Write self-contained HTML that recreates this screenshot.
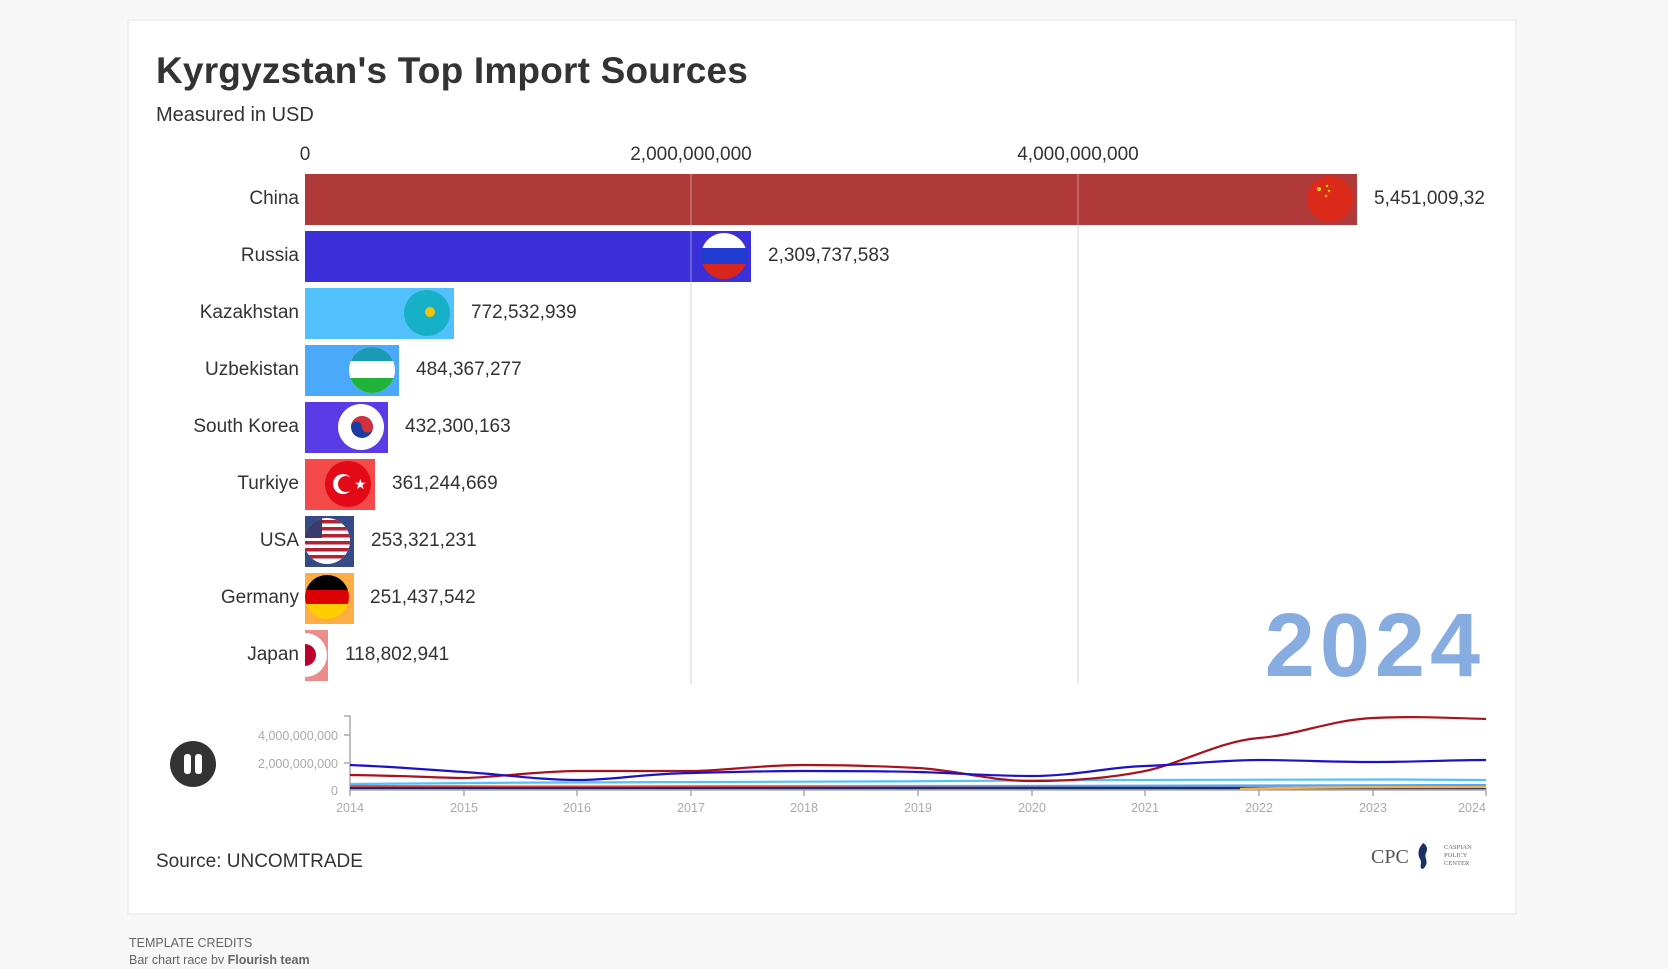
<!DOCTYPE html>
<html><head><meta charset="utf-8"><style>
body{margin:0;background:#f7f7f7;width:1668px;height:964px;overflow:hidden;font-family:"Liberation Sans",sans-serif}
</style></head><body>
<svg width="1668" height="964" xmlns="http://www.w3.org/2000/svg" font-family="Liberation Sans, sans-serif">
<rect x="127" y="19" width="1390" height="896" fill="#efefef"/>
<rect x="129" y="21" width="1386" height="892" fill="#fff"/>
<text x="156" y="83" font-size="37" font-weight="bold" fill="#333" letter-spacing="0.2">Kyrgyzstan's Top Import Sources</text>
<text x="156" y="121" font-size="20" fill="#333">Measured in USD</text>
<g font-size="19" fill="#333" text-anchor="middle">
<text x="305" y="160">0</text><text x="691" y="160">2,000,000,000</text><text x="1078" y="160">4,000,000,000</text>
</g>
<text x="1485" y="676" font-size="90" font-weight="bold" fill="#87ade0" text-anchor="end" letter-spacing="5">2024</text>
<defs>
<clipPath id="c0"><rect x="305" y="174" width="1052" height="51"/></clipPath>
<clipPath id="c1"><circle cx="724" cy="256" r="23"/></clipPath>
<clipPath id="c2"><rect x="305" y="288" width="149" height="51"/></clipPath>
<clipPath id="c3"><rect x="305" y="345" width="94" height="51"/></clipPath>
<clipPath id="c3b"><circle cx="372" cy="370" r="23"/></clipPath>
<clipPath id="c4"><rect x="305" y="402" width="83" height="51"/></clipPath>
<clipPath id="c5"><rect x="305" y="459" width="70" height="51"/></clipPath>
<clipPath id="c6"><rect x="305" y="516" width="49" height="51"/></clipPath>
<clipPath id="c6b"><circle cx="327" cy="541" r="23"/></clipPath>
<clipPath id="c7"><rect x="305" y="573" width="49" height="51"/></clipPath>
<clipPath id="c7b"><circle cx="327" cy="597" r="22"/></clipPath>
<clipPath id="c8"><rect x="305" y="630" width="23" height="51"/></clipPath>
</defs>
<g font-size="19" fill="#333">
<g text-anchor="end">
<text x="299" y="204">China</text><text x="299" y="261">Russia</text><text x="299" y="318">Kazakhstan</text>
<text x="299" y="375">Uzbekistan</text><text x="299" y="432">South Korea</text><text x="299" y="489">Turkiye</text>
<text x="299" y="546">USA</text><text x="299" y="603">Germany</text><text x="299" y="660">Japan</text>
</g>
<rect x="305" y="174" width="1052" height="51" fill="#b0393a"/>
<rect x="305" y="231" width="446" height="51" fill="#3b2fd8"/>
<rect x="305" y="288" width="149" height="51" fill="#52c0fb"/>
<rect x="305" y="345" width="94" height="51" fill="#4aa9f8"/>
<rect x="305" y="402" width="83" height="51" fill="#5a3ce6"/>
<rect x="305" y="459" width="70" height="51" fill="#f44a4a"/>
<rect x="305" y="516" width="49" height="51" fill="#364a87"/>
<rect x="305" y="573" width="49" height="51" fill="#fcae43"/>
<rect x="305" y="630" width="23" height="51" fill="#ea8d8d"/>
<line x1="691" y1="173" x2="691" y2="684" stroke="#e3e3e3" stroke-width="1.5" opacity="0.35"/>
<line x1="1078" y1="173" x2="1078" y2="684" stroke="#e3e3e3" stroke-width="1.5" opacity="0.35"/>
<line x1="691" y1="282" x2="691" y2="684" stroke="#e3e3e3" stroke-width="1.5"/>
<line x1="1078" y1="225" x2="1078" y2="684" stroke="#e3e3e3" stroke-width="1.5"/>
<g clip-path="url(#c0)"><circle cx="1330" cy="199" r="23" fill="#dc2a1a"/><circle cx="1319" cy="189" r="2" fill="#ffd000"/><circle cx="1327" cy="186" r="1.2" fill="#ffd000"/><circle cx="1329" cy="191" r="1.2" fill="#ffd000"/><circle cx="1326" cy="196" r="1.2" fill="#ffd000"/></g>
<g clip-path="url(#c1)"><rect x="700" y="232" width="48" height="16" fill="#fff"/><rect x="700" y="248" width="48" height="16" fill="#1f3bd0"/><rect x="700" y="264" width="48" height="16" fill="#d8261c"/></g>
<g clip-path="url(#c2)"><circle cx="427" cy="313" r="23" fill="#17b1c7"/><circle cx="430" cy="312" r="5" fill="#f4c20d"/></g>
<g clip-path="url(#c3)"><g clip-path="url(#c3b)"><rect x="349" y="347" width="46" height="46" fill="#fff"/><rect x="349" y="347" width="46" height="14" fill="#1a9ab5"/><rect x="349" y="378" width="46" height="16" fill="#1fb33a"/></g></g>
<g clip-path="url(#c4)"><circle cx="361" cy="427" r="23" fill="#fff"/><circle cx="362" cy="427" r="11" fill="#1c3d9e"/><path d="M351 427a11 11 0 0 1 22 0a5.5 5.5 0 0 1-11 0a5.5 5.5 0 0 0-11 0z" fill="#d2303a"/></g>
<g clip-path="url(#c5)"><circle cx="348" cy="484" r="23" fill="#e30a17"/><circle cx="343" cy="484" r="10" fill="#fff"/><circle cx="346" cy="484" r="8" fill="#e30a17"/><text x="354" y="489" font-size="14" fill="#fff">★</text></g>
<g clip-path="url(#c6)"><g clip-path="url(#c6b)"><rect x="300" y="516" width="54" height="51" fill="#fff"/><g fill="#b22234"><rect x="300" y="520" width="54" height="3.5"/><rect x="300" y="527" width="54" height="3.5"/><rect x="300" y="534" width="54" height="3.5"/><rect x="300" y="541" width="54" height="3.5"/><rect x="300" y="548" width="54" height="3.5"/><rect x="300" y="555" width="54" height="3.5"/></g><rect x="300" y="516" width="22" height="22" fill="#3c3b6e"/></g></g>
<g clip-path="url(#c7)"><g clip-path="url(#c7b)"><rect x="300" y="575" width="54" height="15" fill="#000"/><rect x="300" y="590" width="54" height="14" fill="#dd0000"/><rect x="300" y="604" width="54" height="16" fill="#ffce00"/></g></g>
<g clip-path="url(#c8)"><circle cx="305" cy="655" r="22" fill="#fff"/><circle cx="305" cy="655" r="11" fill="#bc002d"/></g>
<text x="1374" y="204">5,451,009,32</text>
<text x="768" y="261">2,309,737,583</text>
<text x="471" y="318">772,532,939</text>
<text x="416" y="375">484,367,277</text>
<text x="405" y="432">432,300,163</text>
<text x="392" y="489">361,244,669</text>
<text x="371" y="546">253,321,231</text>
<text x="370" y="603">251,437,542</text>
<text x="345" y="660">118,802,941</text>
</g>
<circle cx="193" cy="764" r="23" fill="#333"/>
<rect x="184" y="754" width="7" height="20" rx="3" fill="#fff"/><rect x="195" y="754" width="7" height="20" rx="3" fill="#fff"/>
<g stroke="#aaa" stroke-width="1.5" fill="none"><path d="M344 716H350V790H1486V796"/><path d="M344 735H350M344 763H350M350 790V796"/>
<path d="M464 790v6M577 790v6M691 790v6M804 790v6M918 790v6M1032 790v6M1145 790v6M1259 790v6M1373 790v6"/></g>
<g font-size="12.5" fill="#aaa" text-anchor="end"><text x="338" y="740">4,000,000,000</text><text x="338" y="768">2,000,000,000</text><text x="338" y="795">0</text></g>
<g font-size="12.5" fill="#aaa" text-anchor="middle"><text x="350" y="812">2014</text><text x="464" y="812">2015</text><text x="577" y="812">2016</text><text x="691" y="812">2017</text><text x="804" y="812">2018</text><text x="918" y="812">2019</text><text x="1032" y="812">2020</text><text x="1145" y="812">2021</text><text x="1259" y="812">2022</text><text x="1373" y="812">2023</text><text x="1472" y="812">2024</text></g>
<g fill="none" stroke-width="2.2">
<path d="M350 784C450 783 600 782 700 782S1000 781 1100 780 1350 779 1486 780" stroke="#52c0fb"/>
<path d="M350 787C500 786 800 786 1000 786S1300 785 1486 785" stroke="#4aa9f8"/>
<path d="M350 788H1486" stroke="#364a87"/>
<path d="M350 786C500 788 800 788 1100 788S1400 788 1486 788" stroke="#f44a4a"/>
<path d="M350 788C600 789 1000 789 1486 788" stroke="#1a2b6e"/>
<path d="M1240 789C1300 787 1400 787 1486 787" stroke="#fcae43"/>
<path d="M350 775C420 776 440 778 464 778S540 771 577 771 660 771 691 771 760 765 804 765 880 766 918 768 990 781 1032 781 1110 778 1145 771 1220 741 1259 738 1330 720 1373 718 1450 718 1486 719" stroke="#a8121c"/>
<path d="M350 765C400 767 430 770 464 772S540 780 577 780 640 774 691 773 760 771 804 771 880 771 918 772 990 776 1032 776 1110 767 1145 766 1220 760 1259 760 1330 762 1373 762 1450 760 1486 760" stroke="#1e12c8"/>
</g>
<text x="156" y="867" font-size="19" fill="#333">Source: UNCOMTRADE</text>
<text x="1371" y="863" font-size="20" fill="#555" font-family="Liberation Serif, serif">CPC</text>
<path d="M1423 843c4 2 5 6 3 10s2 8 0 12-4 5-5 3 1-6-1-9-2-8 0-12z" fill="#1d3066"/>
<g font-size="6.5" fill="#666" font-family="Liberation Serif, serif"><text x="1444" y="849">CASPIAN</text><text x="1444" y="857">POLICY</text><text x="1444" y="865">CENTER</text></g>
<text x="129" y="947" font-size="12.5" fill="#666">TEMPLATE CREDITS</text>
<text x="129" y="964" font-size="12.5" fill="#666">Bar chart race by <tspan font-weight="bold">Flourish team</tspan></text>
</svg>
</body></html>
